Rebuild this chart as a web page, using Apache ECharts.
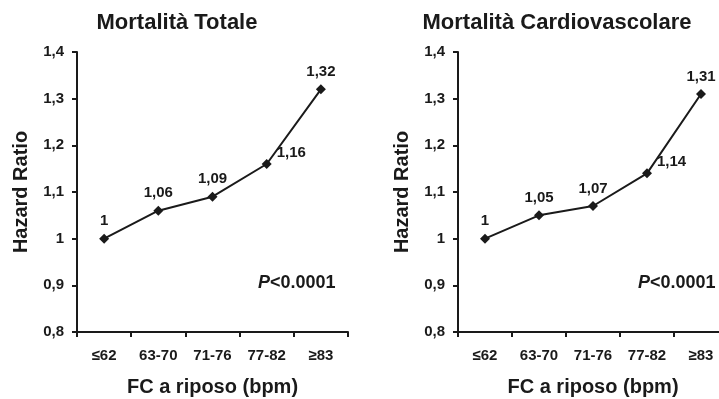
<!DOCTYPE html>
<html>
<head>
<meta charset="utf-8">
<script src="https://cdn.jsdelivr.net/npm/echarts@6/dist/echarts.min.js"></script>
<style>
  html, body { margin: 0; padding: 0; background: #fff; overflow: hidden; }
  #chart { width: 730px; height: 399px; }
</style>
</head>
<body>
<div id="chart"></div>
<script>
// Resting heart-rate classes (bpm)
const categories = ['≤62', '63-70', '71-76', '77-82', '≥83'];
// Hazard ratios per class
const totalMortality = [1, 1.06, 1.09, 1.16, 1.32];
const cvMortality = [1, 1.05, 1.07, 1.14, 1.31];
const panelTitles = ['Mortalità Totale', 'Mortalità Cardiovascolare'];
const pText = '<0.0001';

const FONT = '"Liberation Sans", Arial, sans-serif';
const INK = '#1a1a1a';

const fmt = v => String(Math.round(v * 100) / 100).replace('.', ',');

function labelFor(i) {
  // the fourth point carries its label to the right of the line
  if (i === 3) return { position: 'right', distance: 5, offset: [0, -11] };
  return { position: 'top', distance: 5 };
}

function seriesData(values) {
  return values.map((v, i) => ({ value: v, label: labelFor(i) }));
}

function xAxis(gridIndex) {
  return {
    type: 'category', gridIndex, data: categories,
    name: 'FC a riposo (bpm)', nameLocation: 'middle', nameGap: 45,
    nameTextStyle: { fontFamily: FONT, fontWeight: 'bold', fontSize: 20, color: INK },
    axisLine: { lineStyle: { color: INK, width: 2 } },
    axisTick: { show: true, length: 5, inside: false, lineStyle: { color: INK, width: 2 } },
    axisLabel: { fontFamily: FONT, fontWeight: 'bold', fontSize: 15, color: INK, margin: 16 },
    splitLine: { show: false }
  };
}

function yAxis(gridIndex) {
  return {
    type: 'value', gridIndex, min: 0.8, max: 1.4, interval: 0.1,
    name: 'Hazard Ratio', nameLocation: 'middle', nameGap: 46, nameRotate: 90,
    nameTextStyle: { fontFamily: FONT, fontWeight: 'bold', fontSize: 20, color: INK },
    axisLine: { show: true, lineStyle: { color: INK, width: 2 } },
    axisTick: { show: true, length: 5, lineStyle: { color: INK, width: 2 } },
    axisLabel: { fontFamily: FONT, fontWeight: 'bold', fontSize: 15, color: INK, margin: 13,
      formatter: v => fmt(v) },
    splitLine: { show: false }
  };
}

function lineSeries(idx, values) {
  return {
    type: 'line', xAxisIndex: idx, yAxisIndex: idx,
    data: seriesData(values),
    symbol: 'diamond', symbolSize: 10,
    lineStyle: { color: INK, width: 2 },
    itemStyle: { color: INK },
    label: { show: true, fontFamily: FONT, fontWeight: 'bold', fontSize: 15, color: INK,
      formatter: p => fmt(p.value) },
    animation: false
  };
}

function pTitle(left) {
  return {
    left, top: 274, padding: 0,
    text: '{i|P}{b|' + pText + '}',
    textStyle: {
      rich: {
        i: { fontFamily: FONT, fontStyle: 'italic', fontWeight: 'bold', fontSize: 18, color: INK },
        b: { fontFamily: FONT, fontWeight: 'bold', fontSize: 18, color: INK }
      }
    }
  };
}

const chart = echarts.init(document.getElementById('chart'), null, { renderer: 'canvas' });
chart.setOption({
  backgroundColor: '#fff',
  animation: false,
  title: [
    { text: panelTitles[0], left: 177, top: 12, textAlign: 'center', padding: 0,
      textStyle: { fontFamily: FONT, fontWeight: 'bold', fontSize: 22, color: INK } },
    { text: panelTitles[1], left: 557, top: 12, textAlign: 'center', padding: 0,
      textStyle: { fontFamily: FONT, fontWeight: 'bold', fontSize: 22, color: INK } },
    pTitle(258),
    pTitle(638)
  ],
  grid: [
    { left: 77, top: 52, width: 271, height: 280, outerBoundsMode: 'none', containLabel: false },
    { left: 458, top: 52, width: 270, height: 280, outerBoundsMode: 'none', containLabel: false }
  ],
  xAxis: [xAxis(0), xAxis(1)],
  yAxis: [yAxis(0), yAxis(1)],
  series: [lineSeries(0, totalMortality), lineSeries(1, cvMortality)]
});
</script>
</body>
</html>
